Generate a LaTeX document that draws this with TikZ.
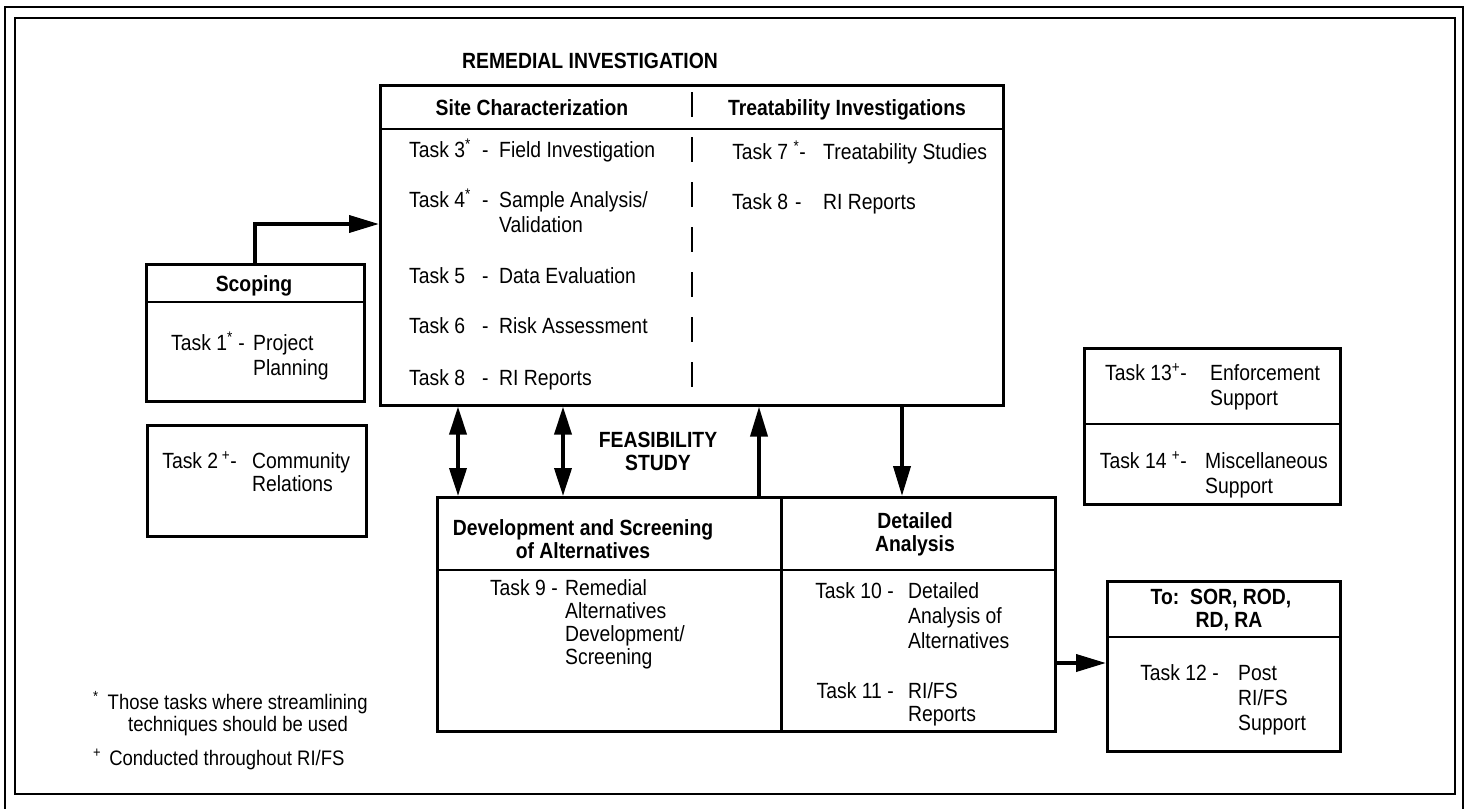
\documentclass[tikz,border=0pt]{standalone}
\usepackage{fontspec}
\setmainfont{Liberation Sans}[FakeStretch=0.88]
\usetikzlibrary{arrows.meta}
\newcommand\lb[2]{\makebox[#1pt][l]{#2}-}
\begin{document}
\begin{tikzpicture}[x=1pt,y=-1pt,
  box/.style={draw,line width=2.6pt,inner sep=0pt,anchor=north west},
  ln/.style={line width=2.6pt},
  txt/.style={font=\fontsize{22}{25}\selectfont,inner sep=0pt,anchor=base west},
  lbl/.style={font=\fontsize{22}{25}\selectfont,inner sep=0pt,anchor=base east},
  fn/.style={font=\fontsize{21}{23}\selectfont,inner sep=0pt,anchor=base west},
  hd/.style={font=\bfseries\fontsize{22}{25}\selectfont,inner sep=0pt,anchor=base},
  hdm/.style={font=\bfseries\fontsize{22}{23}\selectfont,inner sep=0pt,align=center},
  conn/.style={line width=3.8pt},
  tp/.style={-{Triangle[length=30pt,width=17pt]}},
  tpb/.style={{Triangle[length=28pt,width=17pt]}-{Triangle[length=28pt,width=17pt]}}
]
\useasboundingbox (0,0) rectangle (1468,809);
% frame
\draw[line width=2.6pt] (5,809) -- (5,7) -- (1463,7) -- (1463,809);
\draw[line width=2.6pt] (15,18) rectangle (1455,794);

% Remedial investigation box
\node[hd] (ttl) at (590,68) {REMEDIAL INVESTIGATION};
\node[box,minimum width=623pt,minimum height=320pt] (ri) at (379,84) {};
\draw[ln] (379,129) -- (1002,129);
\draw[line width=2.4pt,dash pattern=on 25pt off 20pt] (692,92) -- (692,404);
\node[hd] (hsc) at (532,115) {Site Characterization};
\node[hd] (hti) at (847,115) {Treatability Investigations};

\node[txt] (l3) at (409,157) {\lb{73}{Task 3\textsuperscript{*}}};
\node[txt] (d3) at (499,157) {Field Investigation};
\node[txt] (l4) at (409,207) {\lb{73}{Task 4\textsuperscript{*}}};
\node[txt] (d4) at (499,207) {Sample Analysis/};
\node[txt] (d4b) at (499,232) {Validation};
\node[txt] (l5) at (409,283) {\lb{73}{Task 5}};
\node[txt] (d5) at (499,283) {Data Evaluation};
\node[txt] (l6) at (409,333) {\lb{73}{Task 6}};
\node[txt] (d6) at (499,333) {Risk Assessment};
\node[txt] (l8) at (409,385) {\lb{73}{Task 8}};
\node[txt] (d8) at (499,385) {RI Reports};

\node[lbl] (l7) at (806,159) {Task 7 \textsuperscript{*}-};
\node[txt] (d7) at (823,159) {Treatability Studies};
\node[txt] (l8r) at (732,209) {\lb{63}{Task 8}};
\node[txt] (d8r) at (823,209) {RI Reports};

% Scoping
\node[box,minimum width=218pt,minimum height=137pt] (sc) at (145,263) {};
\draw[ln] (145,302) -- (363,302);
\node[hd] (hscp) at (254,291) {Scoping};
\node[lbl] (l1) at (245,350) {Task 1\textsuperscript{*} -};
\node[txt] (d1) at (253,350) {Project};
\node[txt] (d1b) at (253,375) {Planning};

% Task 2
\node[box,minimum width=219pt,minimum height=111pt] (cr) at (146,424) {};
\node[lbl] (l2) at (237,468) {Task 2\,\textsuperscript{+}-};
\node[txt] (d2) at (252,468) {Community};
\node[txt] (d2b) at (252,491) {Relations};

% Feasibility study
\node[hdm] (fs) at (658,451) {FEASIBILITY\\STUDY};
\node[box,minimum width=344pt,minimum height=234pt] (dev) at (436,496) {};
\node[box,minimum width=274pt,minimum height=234pt] (det) at (780,496) {};
\draw[ln] (436,570) -- (1054,570);
\node[hdm] (hdev) at (583,539) {Development and Screening\\of Alternatives};
\node[hdm] (hdet) at (915,534) {Detailed\\Analysis};

\node[lbl] (l9) at (558,595) {Task 9 -};
\node[txt] (d9) at (565,595) {Remedial};
\node[txt] (d9b) at (565,618) {Alternatives};
\node[txt] (d9c) at (565,641) {Development/};
\node[txt] (d9d) at (565,664) {Screening};

\node[lbl] (l10) at (894,598) {Task 10 -};
\node[txt] (d10) at (908,598) {Detailed};
\node[txt] (d10b) at (908,623) {Analysis of};
\node[txt] (d10c) at (908,648) {Alternatives};
\node[lbl] (l11) at (894,698) {Task 11 -};
\node[txt] (d11) at (908,698) {RI/FS};
\node[txt] (d11b) at (908,721) {Reports};

% Task 13 / 14
\node[box,minimum width=256pt,minimum height=156pt] (ms) at (1083,347) {};
\draw[ln] (1083,424) -- (1339,424);
\node[lbl] (l13) at (1187,380) {Task 13\textsuperscript{+}-};
\node[txt] (d13) at (1210,380) {Enforcement};
\node[txt] (d13b) at (1210,405) {Support};
\node[lbl] (l14) at (1187,468) {Task 14 \textsuperscript{+}-};
\node[txt] (d14) at (1205,468) {Miscellaneous};
\node[txt] (d14b) at (1205,493) {Support};

% SOR box
\node[box,minimum width=233pt,minimum height=170pt] (sor) at (1106,580) {};
\draw[ln] (1106,637) -- (1339,637);
\node[hdm] (hsor) at (1221,610) {To:\ \ SOR, ROD,\\\ \ \ RD, RA};
\node[lbl] (l12) at (1219,680) {Task 12 -};
\node[txt] (d12) at (1238,680) {Post};
\node[txt] (d12b) at (1238,705) {RI/FS};
\node[txt] (d12c) at (1238,730) {Support};

% footnotes
\node[fn] (fn1) at (93,709) {\textsuperscript{*}\hspace{9pt}Those tasks where streamlining};
\node[fn] (fn1b) at (128,731) {techniques should be used};
\node[fn] (fn2) at (93,765) {\textsuperscript{+}\hspace{8pt}Conducted throughout RI/FS};

% connectors
\coordinate (riin) at (379,224);
\draw[conn,tp] (sc.north) |- (riin);
\coordinate (a1) at (458,0);
\coordinate (a2) at (563,0);
\coordinate (a3) at (759,0);
\coordinate (a4) at (902,0);
\coordinate (a5) at (0,663);
\draw[conn,tpb] (ri.south -| a1) -- (dev.north -| a1);
\draw[conn,tpb] (ri.south -| a2) -- (dev.north -| a2);
\draw[conn,tp] (dev.north -| a3) -- (ri.south -| a3);
\draw[conn,tp] (ri.south -| a4) -- (det.north -| a4);
\draw[conn,tp] (det.east |- a5) -- (sor.west |- a5);
\end{tikzpicture}
\end{document}
